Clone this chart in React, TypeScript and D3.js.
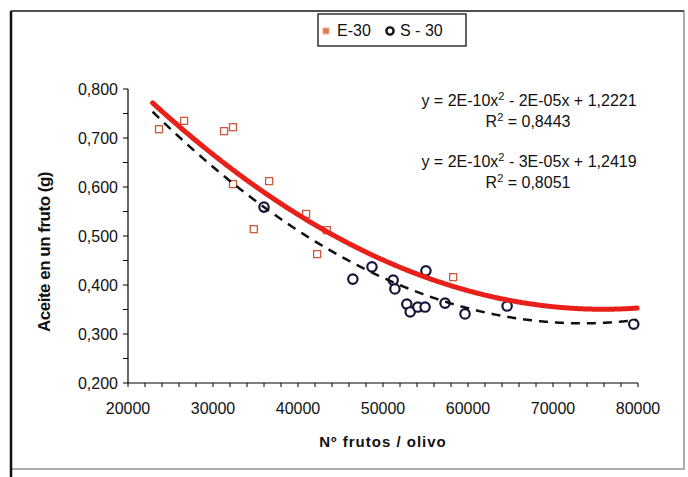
import React from "react";
import * as d3 from "d3";

// E-30 series (squares)
const e30X = [23650, 26600, 31300, 32350, 32350, 36600, 34800, 40950, 43400, 42250, 58250];
const e30Y = [0.718, 0.735, 0.714, 0.722, 0.606, 0.612, 0.514, 0.545, 0.512, 0.463, 0.416];

// S-30 series (circles)
const s30X = [36000, 48700, 46450, 51200, 51400, 55050, 52800, 53200, 54100, 54950, 57300, 59650, 64600, 79500];
const s30Y = [0.559, 0.437, 0.412, 0.410, 0.392, 0.429, 0.361, 0.345, 0.355, 0.355, 0.363, 0.341, 0.357, 0.320];

// Trendline coefficients [a, b, c] for y = a*x^2 + b*x + c (x in units of 10000)
const e30Trend = [0.0150, -0.22767, 1.2144];
const s30Trend = [0.01687, -0.24798, 1.2331];
const e30TrendRange = [22900, 80000];
const s30TrendRange = [22900, 80000];

const xTicks = [20000, 30000, 40000, 50000, 60000, 70000, 80000];
const yTicks = [0.2, 0.3, 0.4, 0.5, 0.6, 0.7, 0.8];
const yTickLabels = ["0,200", "0,300", "0,400", "0,500", "0,600", "0,700", "0,800"];
const equations = [
  ["y = 2E-10x", "2", " - 2E-05x + 1,2221"],
  ["y = 2E-10x", "2", " - 3E-05x + 1,2419"],
];
const r2Labels = ["0,8443", "0,8051"];
const legendLabels = ["E-30", "S - 30"];

export default function App() {
  const W = 688, H = 477;
  const x = d3.scaleLinear().domain([20000, 80000]).range([128, 638]);
  const y = d3.scaleLinear().domain([0.2, 0.8]).range([383, 89]);
  const font = "Arial, 'Liberation Sans', sans-serif";

  const trendPath = (coef: number[], range: number[]) => {
    const pts = d3.range(range[0], range[1] + 1, 250).map((v) => {
      const u = v / 10000;
      return [v, coef[0] * u * u + coef[1] * u + coef[2]] as [number, number];
    });
    return d3.line<[number, number]>().x((d) => x(d[0])).y((d) => y(d[1])).curve(d3.curveBasis)(pts) || "";
  };

  const xMinor = d3.range(20000, 80001, 2000);
  const yMinor = d3.range(0.2, 0.8001, 0.05);
  const sqColor = "#cc5a3a";
  const circColor = "#15153a";

  return (
    <svg width={W} height={H} style={{ position: "absolute", left: 0, top: 0 }}>
      <rect x={0} y={0} width={W} height={H} fill="#fff" />
      <rect x={11} y={11} width={673} height={458} fill="none" stroke="#777" strokeWidth={1.2} />
      <line x1={11} y1={11} x2={11} y2={477} stroke="#111" strokeWidth={2.5} />
      <line x1={11} y1={11} x2={684} y2={11} stroke="#333" strokeWidth={1.5} />

      {/* axes */}
      <line x1={x(20000)} y1={y(0.2)} x2={x(80000)} y2={y(0.2)} stroke="#000" strokeWidth={1.2} />
      <line x1={x(20000)} y1={y(0.2)} x2={x(20000)} y2={y(0.8)} stroke="#000" strokeWidth={1.2} />
      {xMinor.map((v) => (
        <line key={"xm" + v} x1={x(v)} x2={x(v)} y1={y(0.2)} y2={y(0.2) + 4} stroke="#000" strokeWidth={1} />
      ))}
      {yMinor.map((v) => (
        <line key={"ym" + v} x1={x(20000) - 5} x2={x(20000)} y1={y(v)} y2={y(v)} stroke="#000" strokeWidth={1} />
      ))}
      {xTicks.map((v) => (
        <text key={"xt" + v} x={x(v)} y={414} textAnchor="middle" fontFamily={font} fontSize={16} fill="#111">
          {v}
        </text>
      ))}
      {yTicks.map((v, i) => (
        <text key={"yt" + v} x={118} y={y(v) + 6} textAnchor="end" fontFamily={font} fontSize={16} fill="#111">
          {yTickLabels[i]}
        </text>
      ))}
      <text x={383} y={447} textAnchor="middle" fontFamily={font} fontSize={15} fontWeight="bold" fill="#111" letterSpacing={1}>
        Nº frutos / olivo
      </text>
      <text transform={`translate(50,252) rotate(-90)`} textAnchor="middle" fontFamily={font} fontSize={17} fontWeight="bold" fill="#111" letterSpacing={-0.5}>
        Aceite en un fruto (g)
      </text>

      {/* points */}
      {e30X.map((v, i) => (
        <rect key={"e" + i} x={x(v) - 3.5} y={y(e30Y[i]) - 3.5} width={7} height={7} fill="#fff" stroke={sqColor} strokeWidth={1.3} />
      ))}
      {s30X.map((v, i) => (
        <circle key={"s" + i} cx={x(v)} cy={y(s30Y[i])} r={4.7} fill="#fff" stroke={circColor} strokeWidth={2.2} />
      ))}

      {/* trendlines */}
      <path d={trendPath(e30Trend, e30TrendRange)} fill="none" stroke="#e8201a" strokeWidth={5} strokeLinecap="round" />
      <path d={trendPath(s30Trend, s30TrendRange)} fill="none" stroke="#111" strokeWidth={2.5} strokeDasharray="9,7" />

      {/* equations */}
      {[0, 1].map((i) => (
        <g key={"eq" + i} fontFamily={font} fontSize={16} fill="#111">
          <text x={529} y={106 + i * 61} textAnchor="middle">
            {equations[i][0]}
            <tspan dy={-6} fontSize={11}>{equations[i][1]}</tspan>
            <tspan dy={6}>{equations[i][2]}</tspan>
          </text>
          <text x={528} y={127 + i * 61} textAnchor="middle">
            R<tspan dy={-6} fontSize={11}>2</tspan>
            <tspan dy={6}>{" = " + r2Labels[i]}</tspan>
          </text>
        </g>
      ))}

      {/* legend */}
      <rect x={318} y={14} width={148} height={32} fill="#fff" stroke="#111" strokeWidth={1.3} />
      <rect x={323} y={28} width={6} height={6} fill="#e07a50" stroke="#f0b090" strokeWidth={1} />
      <text x={337} y={36} fontFamily={font} fontSize={16} fill="#111">{legendLabels[0]}</text>
      <circle cx={390} cy={31} r={3.6} fill="#fff" stroke="#111" strokeWidth={2.4} />
      <text x={400} y={36} fontFamily={font} fontSize={16} fill="#111">{legendLabels[1]}</text>
    </svg>
  );
}
